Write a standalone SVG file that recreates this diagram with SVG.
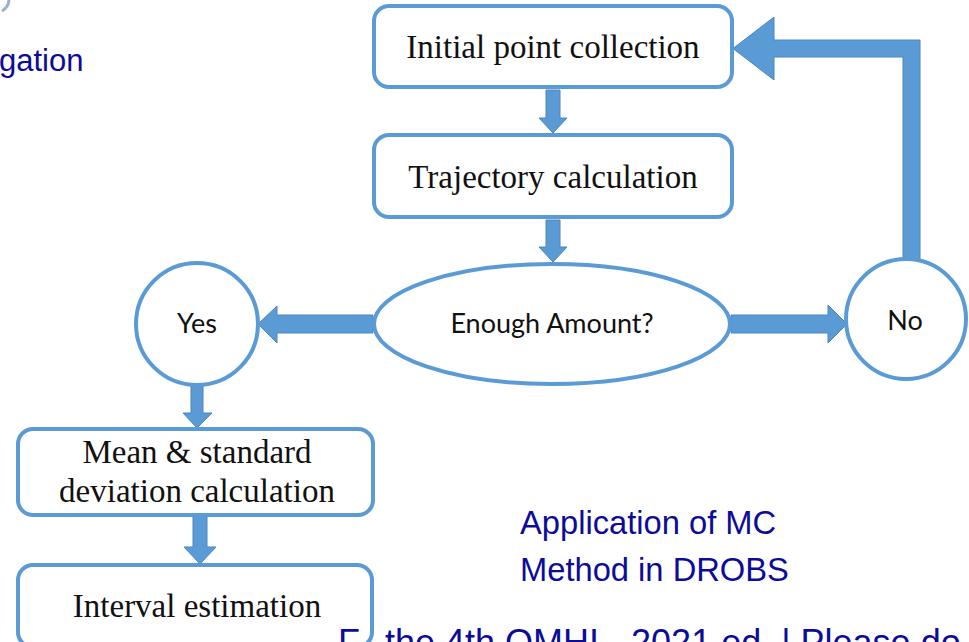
<svg xmlns="http://www.w3.org/2000/svg" width="969" height="642" viewBox="0 0 969 642">
<style>
.box{fill:#fff;stroke:#5B9BD5;stroke-width:4}
.arr{fill:#5B9BD5;stroke:#4A86C0;stroke-width:1}
.serif{font-family:"Liberation Serif","Times New Roman",serif;font-size:33px;fill:#111;text-anchor:middle}
.sans{font-family:Lato,"Noto Sans",sans-serif;font-size:27px;fill:#111;text-anchor:middle}
.blue{font-family:"Liberation Sans",Arial,sans-serif;font-size:32.7px;fill:#0C0C98}
</style>
<rect width="969" height="642" fill="#fff"/>
<path d="M2,11 A14,14 0 0 0 9,0" fill="none" stroke="#7E9CC8" stroke-width="3" opacity="0.8"/>
<text class="blue" x="-1" y="71" style="font-size:31px">gation</text>
<text class="blue" x="520" y="534">Application of MC</text>
<text class="blue" x="520" y="581">Method in DROBS</text>
<g id="connectors">
<polygon class="arr" points="546,90 560,90 560,118 567,118 553,133 539,118 546,118"/>
<polygon class="arr" points="546,220 560,220 560,247 567,247 553,262 539,247 546,247"/>
<polygon class="arr" points="373,315 277,315 277,306 258,324 277,343 277,333 373,333"/>
<polygon class="arr" points="731,315 828,315 828,305 847,324 828,343 828,333 731,333"/>
<polygon class="arr" points="191,386 203,386 203,413 212,413 197,428 183,413 191,413"/>
<polygon class="arr" points="193,516 207,516 207,547 216,547 200,564 184,547 193,547"/>
<polygon class="arr" points="903,260 903,57 774,57 774,80 733,48.5 774,17 774,40 920,40 920,260"/>
</g>
<g id="initial">
<rect class="box" x="374" y="6" width="358" height="81" rx="15"/>
<text class="serif" x="553" y="58">Initial point collection</text>
</g>
<g id="trajectory">
<rect class="box" x="374" y="135" width="358" height="82" rx="15"/>
<text class="serif" x="553" y="188">Trajectory calculation</text>
</g>
<g id="enough">
<ellipse class="box" cx="552" cy="324" rx="178" ry="60"/>
<text class="sans" x="552" y="333">Enough Amount?</text>
</g>
<g id="yes">
<circle class="box" cx="197" cy="324" r="61"/>
<text class="sans" x="197" y="333">Yes</text>
</g>
<g id="no">
<circle class="box" cx="906" cy="319" r="60"/>
<text class="sans" x="905" y="330">No</text>
</g>
<g id="mean">
<rect class="box" x="18" y="429" width="355" height="86" rx="15"/>
<text class="serif" x="197" y="463">Mean &amp; standard</text>
<text class="serif" x="197" y="502">deviation calculation</text>
</g>
<g id="interval">
<rect class="box" x="18" y="565" width="354" height="82" rx="15"/>
<text class="serif" x="197" y="617">Interval estimation</text>
</g>
<text class="blue" x="338" y="655" style="font-size:36px">F</text>
<text class="blue" x="385" y="655" style="font-size:36px">the 4th OMHI - 2021 ed. | Please do</text>
</svg>
